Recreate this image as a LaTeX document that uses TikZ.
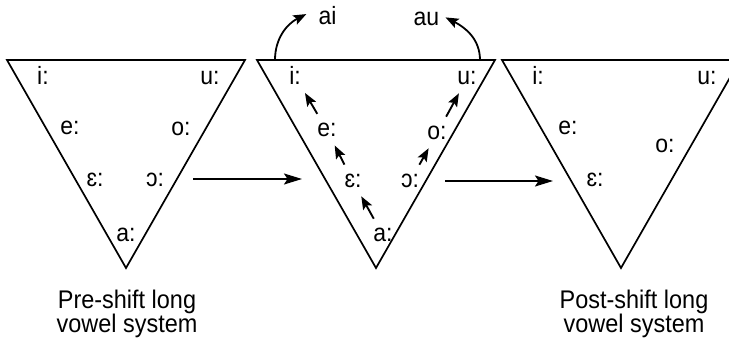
\documentclass[tikz,border=0pt]{standalone}
\usepackage{fontspec}
\setmainfont{Liberation Sans}[FakeStretch=0.92]
\usetikzlibrary{arrows.meta}
\begin{document}
\begin{tikzpicture}[x=1pt,y=1pt,
  lbl/.style={font=\fontsize{25}{28}\selectfont, inner sep=0pt, anchor=base},
  captxt/.style={font=\fontsize{25.5}{28}\selectfont, inner sep=0pt, anchor=base},
  tri/.style={line width=1.7pt, line join=miter},
  arr/.style={line width=1.9pt, -{Stealth[length=13pt,width=10pt,inset=2.5pt]}, shorten <=11pt, shorten >=9pt},
  curarr/.style={line width=1.8pt, -{Stealth[length=13pt,width=10pt,inset=2.5pt]}},
  bigarr/.style={line width=1.6pt, -{Stealth[length=18pt,width=11pt,inset=3.5pt]}}]
\useasboundingbox (0,0) rectangle (729,338);
\clip (0,0) rectangle (729,338);
% triangles
\foreach \c in {126,376,621}
  \draw[tri] (\c-119,278) -- (\c+119,278) -- (\c,70) -- cycle;
% triangle 1
\node[lbl] (i1) at (43,253) {i:};
\node[lbl] (u1) at (210,253) {u:};
\node[lbl] (e1) at (70,203) {e:};
\node[lbl] (o1) at (181,202) {o:};
\node[lbl] (E1) at (95,151) {ɛ:};
\node[lbl] (O1) at (155,151) {ɔ:};
\node[lbl] (a1) at (126,96) {a:};
% triangle 2
\node[lbl] (i2) at (295,253) {i:};
\node[lbl] (u2) at (467,253) {u:};
\node[lbl] (e2) at (327,201) {e:};
\node[lbl] (o2) at (437,198) {o:};
\node[lbl] (E2) at (353,150) {ɛ:};
\node[lbl] (O2) at (410,150) {ɔ:};
\node[lbl] (a2) at (383,96) {a:};
% triangle 3
\node[lbl] (i3) at (538,253) {i:};
\node[lbl] (u3) at (707,253) {u:};
\node[lbl] (e3) at (568,203) {e:};
\node[lbl] (o3) at (665,185) {o:};
\node[lbl] (E3) at (595,151) {ɛ:};
% diphthongs
\node[lbl] (ai) at (327.5,313) {ai};
\node[lbl] (au) at (426.5,312) {au};
\coordinate (sai) at (275,278);
\coordinate (sau) at (480,278);
\draw[curarr] (sai) to[out=90,in=207] ([xshift=-12pt,yshift=2pt]ai.west);
\draw[curarr] (sau) to[out=90,in=333] ([xshift=6pt,yshift=2pt]au.east);
% shift arrows
\draw[arr] (a2) -- (E2);
\draw[arr] (E2) -- (e2);
\draw[arr] (e2) -- (i2);
\draw[arr] (O2) -- (o2);
\draw[arr] (o2) -- (u2);
% system arrows
\coordinate (h1s) at (193,159);
\coordinate (h1e) at (302,159);
\coordinate (h2s) at (445,157);
\coordinate (h2e) at (553,157);
\draw[bigarr] (h1s) -- (h1e);
\draw[bigarr] (h2s) -- (h2e);
% captions
\node[captxt] (pre1) at (127,30) {Pre-shift long};
\node[captxt] (pre2) at (127,6) {vowel system};
\node[captxt] (post1) at (634,30) {Post-shift long};
\node[captxt] (post2) at (634,6) {vowel system};
\end{tikzpicture}
\end{document}
